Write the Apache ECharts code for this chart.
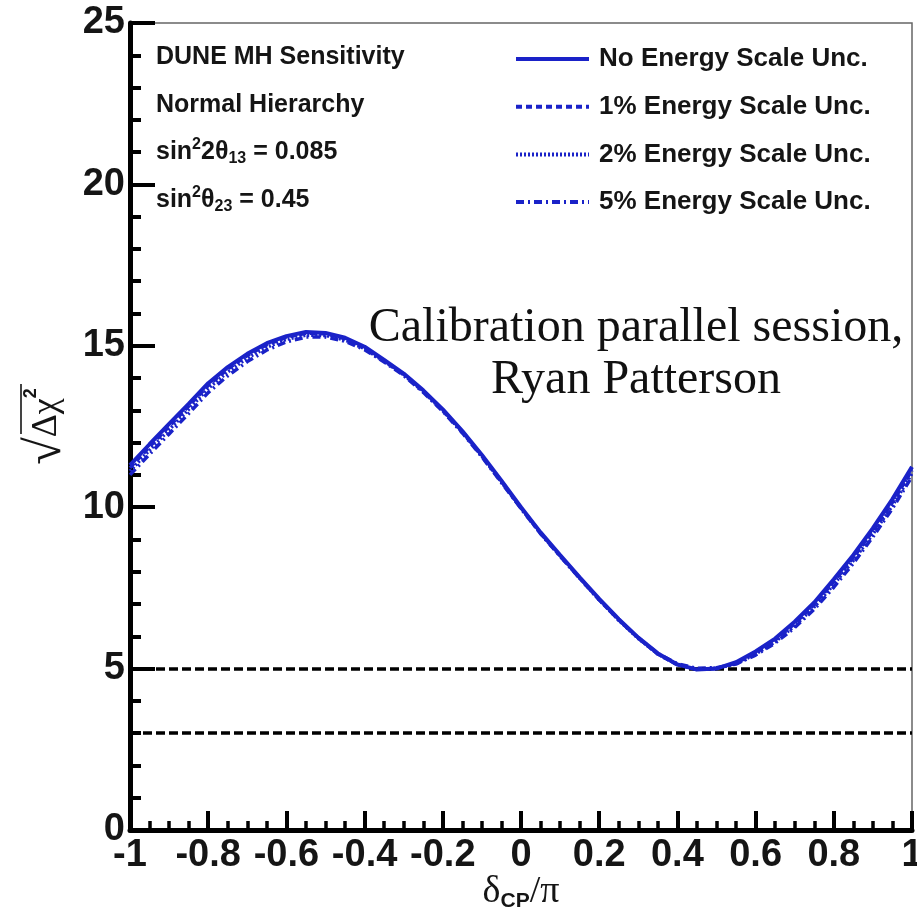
<!DOCTYPE html>
<html><head><meta charset="utf-8">
<script src="https://cdn.jsdelivr.net/npm/echarts@6/dist/echarts.min.js"></script>
<style>html,body{margin:0;padding:0;background:#fff}#c{width:917px;height:917px}</style>
</head><body><div id="c"></div>
<script>
// ---- data ----
const deltaCP = [-1,-0.95,-0.9,-0.85,-0.8,-0.75,-0.7,-0.65,-0.6,-0.55,-0.5,-0.45,-0.4,-0.35,-0.3,-0.25,-0.2,-0.15,-0.1,-0.05,0,0.05,0.1,0.15,0.2,0.25,0.3,0.35,0.4,0.45,0.5,0.55,0.6,0.65,0.7,0.75,0.8,0.85,0.9,0.95,1];
const noUnc  = [11.30,11.95,12.58,13.20,13.84,14.34,14.75,15.08,15.30,15.43,15.40,15.25,14.97,14.56,14.14,13.62,13.03,12.36,11.62,10.82,10.00,9.22,8.52,7.83,7.16,6.53,5.96,5.47,5.13,4.97,5.00,5.20,5.53,5.93,6.45,7.05,7.77,8.52,9.35,10.25,11.25];
const unc1   = [11.22,11.87,12.50,13.13,13.77,14.28,14.70,15.03,15.26,15.39,15.37,15.22,14.94,14.54,14.12,13.60,13.01,12.34,11.60,10.80,9.98,9.20,8.50,7.81,7.14,6.51,5.94,5.45,5.12,4.97,5.00,5.17,5.49,5.88,6.39,6.98,7.69,8.44,9.26,10.15,11.15];
const unc2   = [11.12,11.77,12.40,13.03,13.68,14.19,14.62,14.96,15.20,15.33,15.32,15.18,14.91,14.52,14.10,13.58,12.99,12.32,11.58,10.78,9.97,9.19,8.49,7.80,7.13,6.50,5.93,5.45,5.12,4.98,5.01,5.15,5.45,5.83,6.33,6.91,7.61,8.35,9.17,10.05,11.05];
const unc5   = [11.00,11.64,12.27,12.90,13.55,14.07,14.51,14.87,15.12,15.27,15.27,15.14,14.88,14.50,14.08,13.56,12.97,12.30,11.56,10.76,9.96,9.18,8.48,7.80,7.13,6.51,5.95,5.47,5.15,5.01,5.03,5.14,5.42,5.79,6.27,6.84,7.52,8.26,9.08,9.96,10.95];
const refLevels = [5, 3];
const seriesNames = ['No Energy Scale Unc.','1% Energy Scale Unc.','2% Energy Scale Unc.','5% Energy Scale Unc.'];
const infoLines = ['DUNE MH Sensitivity','Normal Hierarchy','sin{p|2}2θ{b|13} = 0.085','sin{p|2}θ{b|23} = 0.45'];
const noteText = 'Calibration parallel session,\nRyan Patterson';

const pairs = v => deltaCP.map((x,i)=>[x,v[i]]);
const BLUE = '#1a22c8';
const SANS = '"Liberation Sans", Arial, Helvetica, sans-serif';
const SERIF = '"Liberation Serif", "Times New Roman", serif';
const TXT = '#151515';

const infoStyle = {
  fontFamily: SANS, fontWeight: 'bold', fontSize: 25, color: TXT, lineHeight: 30,
  rich: {
    p: {fontFamily: SANS, fontWeight: 'bold', fontSize: 16, color: TXT, verticalAlign: 'top', lineHeight: 14},
    b: {fontFamily: SANS, fontWeight: 'bold', fontSize: 16, color: TXT, verticalAlign: 'bottom', lineHeight: 14, padding: [16,0,0,0]}
  }
};
const infoTops = [42, 90, 137, 185];

const chart = echarts.init(document.getElementById('c'), null, {renderer: 'canvas'});
chart.setOption({
  animation: false,
  backgroundColor: '#fff',
  title: infoLines.map((t,i)=>({text: t, left: 156, top: infoTops[i], padding: 0, textStyle: infoStyle})),
  grid: {left: 130, right: 5, top: 23, bottom: 87, containLabel: false, outerBoundsMode: 'none',
         show: true, borderColor: '#666', borderWidth: 1.5},
  legend: {
    data: seriesNames, orient: 'vertical', left: 509, top: 41, itemWidth: 73, itemHeight: 24, itemGap: 21.7,
    selectedMode: false,
    itemStyle: {opacity: 0},
    lineStyle: {width: 4},
    textStyle: {fontFamily: SANS, fontWeight: 'bold', fontSize: 26, color: TXT, padding: [0,0,0,5], lineHeight: 24}
  },
  xAxis: {
    type: 'value', min: -1, max: 1, interval: 0.2,
    name: '{d|δ}{s|CP}{d|/π}', nameLocation: 'middle', nameGap: 42, nameMoveOverlap: false,
    nameTextStyle: {
      rich: {
        d: {fontFamily: SERIF, fontSize: 38, color: TXT, lineHeight: 40},
        s: {fontFamily: SANS, fontWeight: 'bold', fontSize: 21, color: TXT, verticalAlign: 'bottom', lineHeight: 21, padding: [24,0,0,0]}
      }
    },
    axisLine: {show: true, onZero: false, lineStyle: {color: '#000', width: 5}},
    axisTick: {show: true, inside: true, length: 19, lineStyle: {color: '#000', width: 4}},
    minorTick: {show: true, splitNumber: 4, length: 9, lineStyle: {color: '#000', width: 3.5}},
    splitLine: {show: false},
    axisLabel: {fontFamily: SANS, fontWeight: 'bold', fontSize: 38, color: TXT, margin: 7}
  },
  yAxis: {
    type: 'value', min: 0, max: 25, interval: 5,
    name: '{r|√}{t|Δχ}{p|2}', nameLocation: 'middle', nameRotate: 90, nameGap: 53,
    nameTextStyle: {
      rich: {
        r: {fontFamily: SERIF, fontSize: 50, color: TXT, lineHeight: 50},
        t: {fontFamily: SERIF, fontSize: 36, color: TXT, lineHeight: 40},
        p: {fontFamily: SANS, fontWeight: 'bold', fontSize: 18, color: TXT, verticalAlign: 'top', lineHeight: 18}
      }
    },
    axisLine: {show: true, onZero: false, lineStyle: {color: '#000', width: 5}},
    axisTick: {show: true, inside: true, length: 25, lineStyle: {color: '#000', width: 4}},
    minorTick: {show: true, splitNumber: 5, length: 11, lineStyle: {color: '#000', width: 4}},
    splitLine: {show: false},
    axisLabel: {fontFamily: SANS, fontWeight: 'bold', fontSize: 38, color: TXT, margin: 5}
  },
  graphic: [
    {type: 'text', z: 100,
     style: {text: noteText, x: 636, y: 302, textAlign: 'center', fontFamily: SERIF, fontSize: 48, lineHeight: 52, fill: '#111'}},
    {type: 'line', z: 100, silent: true,
     shape: {x1: 21, y1: 434, x2: 21, y2: 384}, style: {stroke: TXT, lineWidth: 1.6}}
  ],
  series: [
    {name: seriesNames[3], type: 'line', data: pairs(unc5), symbol: 'none', z: 2,
     lineStyle: {color: BLUE, width: 3.5, type: [8,4,2,4]}, itemStyle: {color: BLUE}},
    {name: seriesNames[2], type: 'line', data: pairs(unc2), symbol: 'none', z: 3,
     lineStyle: {color: BLUE, width: 3.5, type: [2,2]}, itemStyle: {color: BLUE}},
    {name: seriesNames[1], type: 'line', data: pairs(unc1), symbol: 'none', z: 4,
     lineStyle: {color: BLUE, width: 3.5, type: [6,4]}, itemStyle: {color: BLUE}},
    {name: seriesNames[0], type: 'line', data: pairs(noUnc), symbol: 'none', z: 5,
     lineStyle: {color: BLUE, width: 4}, itemStyle: {color: BLUE},
     markLine: {silent: true, symbol: ['none','none'], label: {show: false},
       lineStyle: {color: '#000', width: 3.5, type: [9,4]},
       data: refLevels.map(v=>({yAxis: v}))}}
  ]
});
</script></body></html>
